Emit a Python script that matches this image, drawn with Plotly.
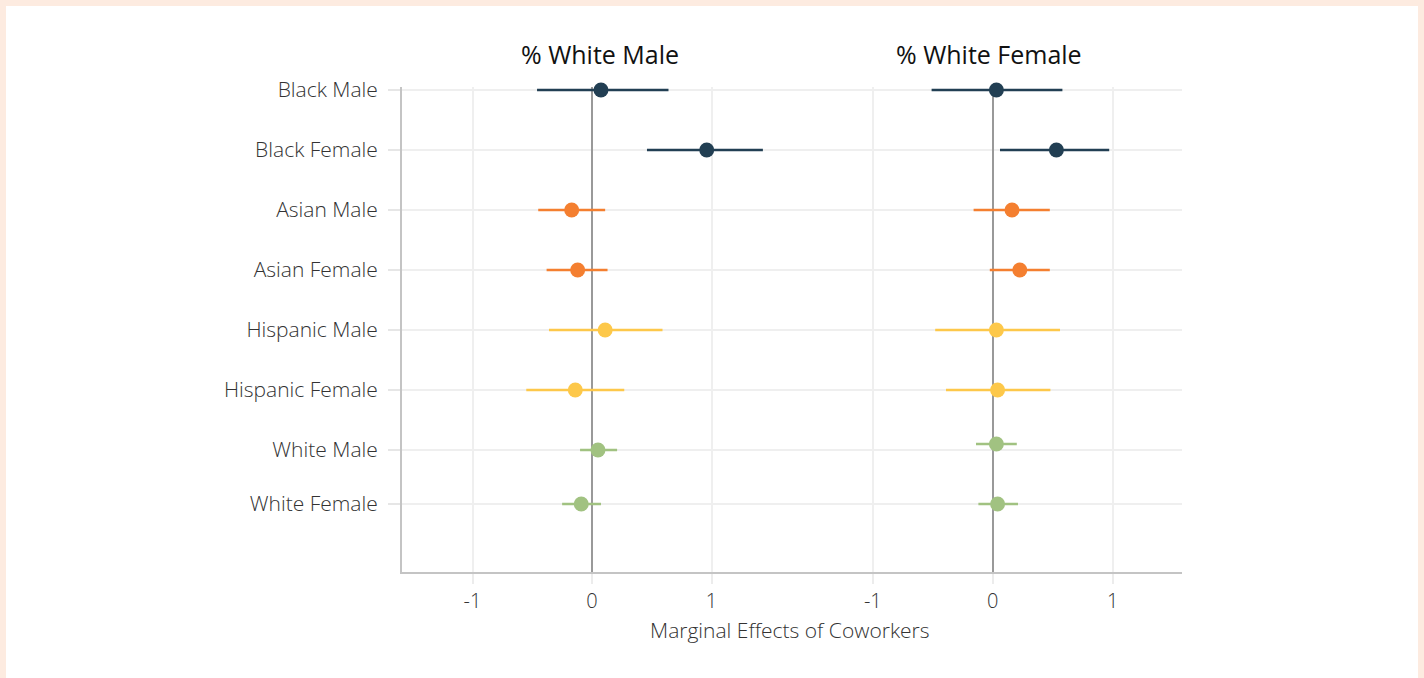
import plotly.graph_objects as go

# ---------------- data ----------------
categories = ["Black Male", "Black Female", "Asian Male", "Asian Female",
              "Hispanic Male", "Hispanic Female", "White Male", "White Female"]
cat_pos = [0, 1, 2, 3, 4, 5, 6.0, 6.9]          # row positions (top = 0)
cat_pos_right = [0, 1, 2, 3, 4, 5, 5.9, 6.9]    # right panel (white male nudged)
group_colors = ["#223f53", "#223f53", "#f47f30", "#f47f30",
                "#fdc84a", "#fdc84a", "#a1c281", "#a1c281"]

# % White Male panel
wm_est = [0.075, 0.96, -0.17, -0.12, 0.11, -0.14, 0.05, -0.09]
wm_lo = [-0.46, 0.46, -0.45, -0.38, -0.36, -0.55, -0.10, -0.25]
wm_hi = [0.64, 1.43, 0.11, 0.13, 0.59, 0.27, 0.21, 0.075]

# % White Female panel
wf_est = [0.03, 0.53, 0.16, 0.225, 0.03, 0.04, 0.03, 0.04]
wf_lo = [-0.51, 0.06, -0.16, -0.025, -0.48, -0.39, -0.14, -0.12]
wf_hi = [0.58, 0.97, 0.475, 0.475, 0.56, 0.48, 0.20, 0.21]

panel_titles = ["% White Male", "% White Female"]
x_title = "Marginal Effects of Coworkers"
x_ticks = [-1, 0, 1]

FONT = "Open Sans"
W, H = 1424, 678
ML, MR, MT, MB = 402, 242, 87, 106
PW, PH = W - ML - MR, H - MT - MB

fig = go.Figure()

def add_panel(est, lo, hi, ypos, xa):
    for i in range(len(categories)):
        fig.add_trace(go.Scatter(
            x=[est[i]], y=[ypos[i]], xaxis=xa, yaxis="y",
            mode="markers",
            marker=dict(size=15, color=group_colors[i]),
            error_x=dict(type="data", symmetric=False,
                         array=[hi[i] - est[i]], arrayminus=[est[i] - lo[i]],
                         color=group_colors[i], thickness=2.5, width=0),
            cliponaxis=False, showlegend=False, name=categories[i],
        ))

add_panel(wm_est, wm_lo, wm_hi, cat_pos, "x")
add_panel(wf_est, wf_lo, wf_hi, cat_pos_right, "x2")

split = 400 / PW
unit_l = 119.5
unit_r = 120.0
xr_l = [-1.59, -1.59 + 400 / unit_l]
xr_r = [-1.59, -1.59 + (PW - 400) / unit_r]

xcommon = dict(
    tickvals=x_ticks, ticktext=[str(t) for t in x_ticks],
    showgrid=True, gridcolor="#efefef", gridwidth=1.5,
    zeroline=True, zerolinecolor="#999999", zerolinewidth=2,
    showline=True, linecolor="#c4c4c4", linewidth=2,
    ticks="outside", ticklen=10, tickcolor="#ececec", tickwidth=1.5,
    ticklabelstandoff=0,
    tickfont=dict(family=FONT, size=20, color="#333333", weight=300),
    fixedrange=True,
)

y_top = -3 / 60.0
y_bot = (H - MB - 90) / 60.0

fig.update_layout(
    width=W, height=H,
    margin=dict(l=ML, r=MR, t=MT, b=MB),
    paper_bgcolor="#fdebe0",
    plot_bgcolor="rgba(0,0,0,0)",
    xaxis=dict(domain=[0, split], range=xr_l, anchor="y", **xcommon),
    xaxis2=dict(domain=[split, 1], range=xr_r, anchor="y", **xcommon),
    yaxis=dict(
        range=[y_bot, y_top],
        tickvals=cat_pos, ticktext=categories,
        showgrid=True, gridcolor="#efefef", gridwidth=1.5,
        zeroline=False,
        showline=True, linecolor="#c4c4c4", linewidth=2,
        ticks="outside", ticklen=12, tickcolor="#e6e6e6", tickwidth=2,
        ticklabelstandoff=6,
        tickfont=dict(family=FONT, size=21, color="#333333", weight=300),
        fixedrange=True,
    ),
    shapes=[dict(
        type="rect", xref="paper", yref="paper", layer="below",
        x0=(6 - ML) / PW, x1=(W - 6 - ML) / PW,
        y0=(H - MB - H - 10) / PH, y1=(H - MB - 6) / PH,
        fillcolor="white", line=dict(width=0),
    )],
    annotations=[
        dict(text=panel_titles[0], xref="paper", yref="paper",
             x=(600 - ML) / PW, y=(H - MB - 54) / PH, showarrow=False,
             xanchor="center", yanchor="middle",
             font=dict(family=FONT, size=25, color="#111111", weight=500)),
        dict(text=panel_titles[1], xref="paper", yref="paper",
             x=(989 - ML) / PW, y=(H - MB - 54) / PH, showarrow=False,
             xanchor="center", yanchor="middle",
             font=dict(family=FONT, size=25, color="#111111", weight=500)),
        dict(text=x_title, xref="paper", yref="paper",
             x=(790 - ML) / PW, y=(H - MB - 630) / PH, showarrow=False,
             xanchor="center", yanchor="middle",
             font=dict(family=FONT, size=21, color="#333333", weight=300)),
    ],
)

fig.write_html(
    "out.html",
    config={"displayModeBar": False},
    post_script="document.body.style.margin='0';document.body.style.overflow='hidden';",
)
